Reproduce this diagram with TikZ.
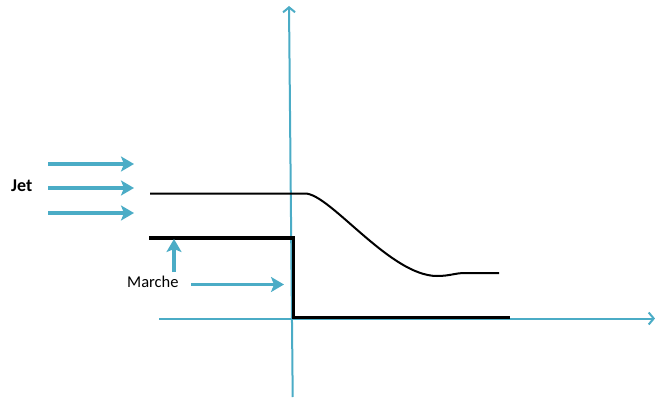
\documentclass[tikz,border=0pt]{standalone}
\usepackage{fontspec}
\setmainfont{Carlito}
\usetikzlibrary{arrows.meta}
\definecolor{axblue}{HTML}{4BACC6}
\tikzset{
  axis/.style={draw=axblue, line width=2pt, -{Straight Barb[length=5pt,width=12pt]}},
  bigarrow/.style={draw=axblue, line width=4.4pt, -{Stealth[length=13pt,width=15pt,inset=3pt]}},
  thin curve/.style={draw=black, line width=2pt},
  step line/.style={draw=black, line width=3.6pt},
  lbl/.style={inner sep=0pt, font=\fontsize{16.5}{19}\selectfont},
}
\begin{document}
\begin{tikzpicture}[x=1pt,y=-1pt]
\useasboundingbox (0,0) rectangle (655,401);
% axes
\coordinate (vbot) at (292.7,397);
\coordinate (vtop) at (289,6);
\coordinate (hleft) at (159,318.5);
\coordinate (hright) at (655,318.5);
\draw[axis] (vbot) -- (vtop);
\draw[axis] (hleft) -- (hright);
% step (marche)
\coordinate (s1) at (149,238);
\coordinate (s2) at (293.5,238);
\coordinate (s3) at (293.5,317.5);
\coordinate (s4) at (510,317.5);
\draw[step line, line join=miter] (s1) -- (s2) -- (s3) -- (s4);
% jet profile
\coordinate (c0) at (150,193.5);
\coordinate (c1) at (305,193.5);
\coordinate (c2) at (437,276);
\coordinate (c3) at (465,273);
\coordinate (c4) at (499,273);
\draw[thin curve] (c0) -- (c1) .. controls (330,193.5) and (390,276) .. (c2)
  .. controls (450,276) and (455,273) .. (c3) -- (c4);
% jet arrows
\coordinate (j1a) at (48,164);
\coordinate (j1b) at (134,164);
\coordinate (j2a) at (48,188);
\coordinate (j2b) at (134,188);
\coordinate (j3a) at (48,213);
\coordinate (j3b) at (134,213);
\draw[bigarrow] (j1a) -- (j1b);
\draw[bigarrow] (j2a) -- (j2b);
\draw[bigarrow] (j3a) -- (j3b);
\node[lbl, font=\fontsize{18}{21}\selectfont\bfseries, anchor=west] (jet) at (11,186) {Jet};
% marche
\node[lbl, anchor=west] (marche) at (127,282) {Marche};
\coordinate (m1a) at (174,272);
\coordinate (m1b) at (174,239);
\coordinate (m2a) at (191,284.5);
\coordinate (m2b) at (284,284.5);
\draw[bigarrow, line width=3.6pt] (m1a) -- (m1b);
\draw[bigarrow, line width=3.6pt] (m2a) -- (m2b);
\end{tikzpicture}
\end{document}
